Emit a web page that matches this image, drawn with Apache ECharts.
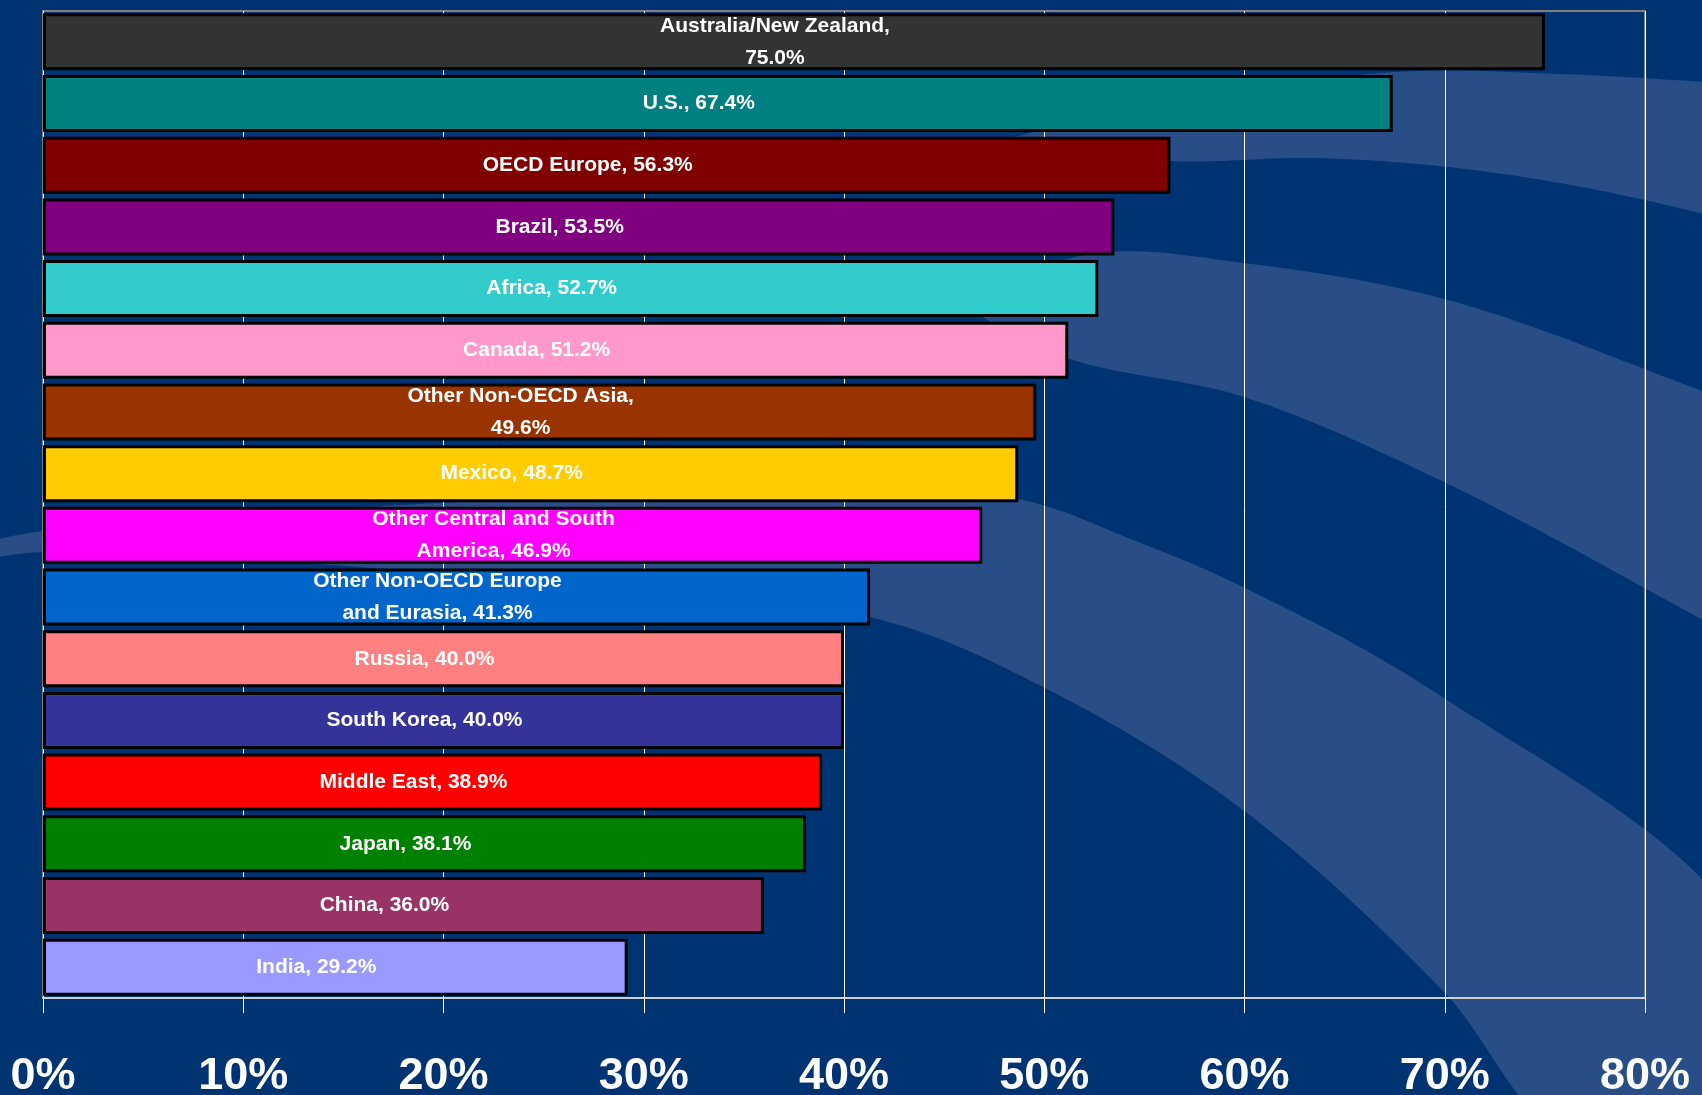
<!DOCTYPE html>
<html>
<head>
<meta charset="utf-8">
<script src="https://cdn.jsdelivr.net/npm/echarts@6/dist/echarts.min.js"></script>
<style>
html,body{margin:0;padding:0;background:#003372;}
#chart{width:1702px;height:1095px;}
</style>
</head>
<body>
<div id="chart"></div>
<script>
const categories = ['Australia/New Zealand','U.S.','OECD Europe','Brazil','Africa','Canada','Other Non-OECD Asia','Mexico','Other Central and South America','Other Non-OECD Europe and Eurasia','Russia','South Korea','Middle East','Japan','China','India'];
const values = [75.0,67.4,56.3,53.5,52.7,51.2,49.6,48.7,46.9,41.3,40.0,40.0,38.9,38.1,36.0,29.2];
const barColors = ['#333333','#008080','#800000','#800080','#33CCCC','#FF99CC','#993300','#FFCC00','#FF00FF','#0066CC','#FF8080','#333399','#FF0000','#008000','#993366','#9999FF'];
const xTicks = [0,10,20,30,40,50,60,70,80];

// label wrapping as in the original
const wrappedNames = {
  'Other Central and South America': 'Other Central and South\nAmerica',
  'Other Non-OECD Europe and Eurasia': 'Other Non-OECD Europe\nand Eurasia'
};
const breakAfterComma = ['Australia/New Zealand','Other Non-OECD Asia'];

function labelFor(name, v) {
  const n = wrappedNames[name] || name;
  const sep = breakAfterComma.indexOf(name) >= 0 ? ',\n' : ', ';
  return n + sep + v.toFixed(1) + '%';
}

// decorative background swooshes (centripetal Catmull-Rom outlines)
function crSpline(pts, steps) {
  const n = pts.length;
  const ext = (a, b) => [2 * a[0] - b[0], 2 * a[1] - b[1]];
  const P = [ext(pts[0], pts[1])].concat(pts, [ext(pts[n - 1], pts[n - 2])]);
  const out = [];
  const tj = (ti, a, b) => ti + Math.pow(Math.hypot(b[0] - a[0], b[1] - a[1]), 0.5) + 1e-6;
  const lerp = (a, b, ta, tb, t) => [
    (tb - t) / (tb - ta) * a[0] + (t - ta) / (tb - ta) * b[0],
    (tb - t) / (tb - ta) * a[1] + (t - ta) / (tb - ta) * b[1]
  ];
  for (let i = 1; i < P.length - 2; i++) {
    const p0 = P[i - 1], p1 = P[i], p2 = P[i + 1], p3 = P[i + 2];
    const t0 = 0, t1 = tj(t0, p0, p1), t2 = tj(t1, p1, p2), t3 = tj(t2, p2, p3);
    for (let s = 0; s < steps; s++) {
      const t = t1 + (t2 - t1) * s / steps;
      const A1 = lerp(p0, p1, t0, t1, t), A2 = lerp(p1, p2, t1, t2, t), A3 = lerp(p2, p3, t2, t3, t);
      const B1 = lerp(A1, A2, t0, t2, t), B2 = lerp(A2, A3, t1, t3, t);
      out.push(lerp(B1, B2, t1, t2, t));
    }
  }
  out.push(pts[n - 1]);
  return out;
}
function band(upper, lower) {
  return crSpline(upper, 24).concat(crSpline(lower, 24));
}
const bandShapes = [
  band([[1000,140],[1150,106],[1394,72],[1560,74],[1740,84]],
       [[1740,222],[1582,187],[1448,167],[1313,158],[1170,161],[1000,140]]),
  band([[950,300],[1098,253],[1244,263],[1448,300],[1740,405]],
       [[1740,640],[1444,482],[1244,397],[1067,358],[950,300]]),
  band([[-30,545],[43,531],[400,505],[800,492],[1017,499],[1133,540],[1243,587],[1444,698],[1740,930],[1740,1130]],
       [[1740,1130],[1560,1130],[1444,992],[1243,810],[1045,688],[870,617],[500,578],[43,552],[-30,562]])
];

const chart = echarts.init(document.getElementById('chart'));
chart.setOption({
  backgroundColor: '#003372',
  animation: false,
  graphic: bandShapes.map(pts => ({
    type: 'polygon',
    silent: true,
    z: -10,
    shape: { points: pts },
    style: { fill: '#294d86' }
  })),
  grid: {
    left: 43, right: 57, top: 11, bottom: 97,
    containLabel: false,
    outerBoundsMode: 'none',
    show: true,
    borderColor: '#808080',
    borderWidth: 2,
    backgroundColor: 'transparent'
  },
  xAxis: {
    type: 'value',
    min: xTicks[0],
    max: xTicks[xTicks.length - 1],
    interval: xTicks[1] - xTicks[0],
    axisLine: { show: true, lineStyle: { color: '#cfcfcf', width: 2 } },
    axisTick: { show: true, length: 15, lineStyle: { color: '#ffffff', width: 1 } },
    splitLine: { show: true, lineStyle: { color: '#ffffff', width: 1 } },
    axisLabel: {
      formatter: '{value}%',
      color: '#ffffff',
      fontSize: 45,
      fontWeight: 'bold',
      fontFamily: 'Liberation Sans, Arial, sans-serif',
      margin: 56
    }
  },
  yAxis: {
    type: 'category',
    inverse: true,
    data: categories,
    axisLine: { show: false },
    axisTick: { show: false },
    axisLabel: { show: false },
    splitLine: { show: false }
  },
  series: [{
    type: 'bar',
    barWidth: 57,
    data: values.map((v, i) => ({ value: v, itemStyle: { color: barColors[i] } })),
    itemStyle: { borderColor: '#000000', borderWidth: 3 },
    label: {
      show: true,
      position: 'inside',
      offset: [-19, 0],
      color: '#ffffff',
      fontSize: 21,
      fontWeight: 'bold',
      fontFamily: 'Liberation Sans, Arial, sans-serif',
      lineHeight: 32,
      align: 'center',
      textBorderWidth: 0,
      formatter: p => labelFor(p.name, p.value)
    }
  }]
});
</script>
</body>
</html>
